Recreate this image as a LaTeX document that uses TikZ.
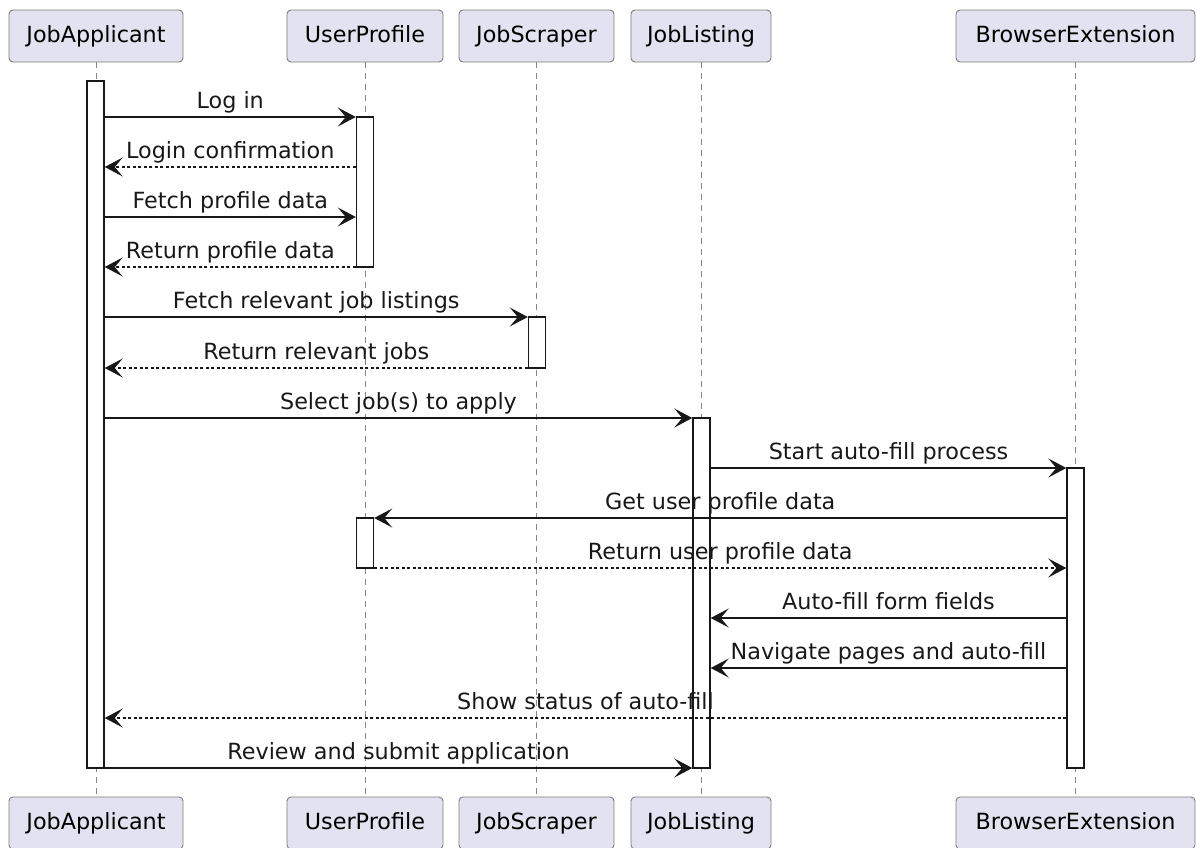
\documentclass[tikz,border=0pt]{standalone}
\usepackage{fontspec}
\setmainfont{DejaVu Sans}
\usepackage{tikz}
\usetikzlibrary{positioning, arrows.meta, calc}
\definecolor{boxfill2}{RGB}{226, 226, 240}
\definecolor{boxline2}{RGB}{125, 125, 125}
\definecolor{dark2}{RGB}{24, 24, 24}
\definecolor{life2}{RGB}{135, 135, 135}

\begin{document}
\begin{tikzpicture}[x=1pt, y=-1pt,
	every node/.style={font=\fontsize{22.3}{26}\selectfont},
	party/.style={draw=boxline2, fill=boxfill2, line width=0.9pt, rounded corners=4pt, minimum height=52pt, inner sep=0pt, text height=16pt, text depth=4pt},
	life/.style={life2, line width=1pt, dash pattern=on 6pt off 5pt},
	actbar/.style={draw=dark2, fill=white, line width=1.4pt, minimum width=17pt, inner sep=0pt},
	msg/.style={dark2, line width=1.4pt, -{Stealth[length=18pt, width=19pt, inset=8pt]}},
	reply/.style={msg, dash pattern=on 3pt off 2.5pt},
	lbl/.style={anchor=base, yshift=9pt, text=dark2}]
	\useasboundingbox (0,0) rectangle (1196,847);

	% participants, top and bottom, with their lifelines
	\foreach \name/\txt/\cx/\w in {ja/JobApplicant/96/174, up/UserProfile/365/156, js/JobScraper/536.5/155, jl/JobListing/701/140, be/BrowserExtension/1075.5/239} {
		\node[party, minimum width=\w pt] (\name-top) at (\cx, 36) {\txt};
		\node[party, minimum width=\w pt] (\name-bot) at (\cx, 823) {\txt};
		\draw[life] (\name-top.south) -- (\name-bot.north);
	}

	% activation bars
	\node[actbar, minimum height=687pt] (actJA) at (95.5, 424.5) {};
	\node[actbar, minimum height=150pt] (actUP1) at (365, 192) {};
	\node[actbar, minimum height=51pt] (actJS) at (537, 342.5) {};
	\node[actbar, minimum height=350pt] (actJL) at (701.5, 593) {};
	\node[actbar, minimum height=300pt] (actBE) at (1075.5, 618) {};
	\node[actbar, minimum height=50pt] (actUP2) at (365, 543) {};

	% messages
	\foreach \y/\from/\to/\sty/\txt in {
		117/actJA.east/actUP1.west/msg/Log in,
		167/actUP1.west/actJA.east/reply/Login confirmation,
		217/actJA.east/actUP1.west/msg/Fetch profile data,
		267/actUP1.west/actJA.east/reply/Return profile data,
		317/actJA.east/actJS.west/msg/Fetch relevant job listings,
		368/actJS.west/actJA.east/reply/Return relevant jobs,
		418/actJA.east/actJL.west/msg/Select job(s) to apply,
		468/actJL.east/actBE.west/msg/Start auto-fill process,
		518/actBE.west/actUP2.east/msg/Get user profile data,
		568/actUP2.east/actBE.west/reply/Return user profile data,
		618/actBE.west/actJL.east/msg/Auto-fill form fields,
		668/actBE.west/actJL.east/msg/Navigate pages and auto-fill,
		718/actBE.west/actJA.east/reply/Show status of auto-fill,
		768/actJA.east/actJL.west/msg/Review and submit application} {
		\draw[\sty] (\from |- 0,\y) -- node[lbl] {\txt} (\to |- 0,\y);
	}
\end{tikzpicture}
\end{document}
